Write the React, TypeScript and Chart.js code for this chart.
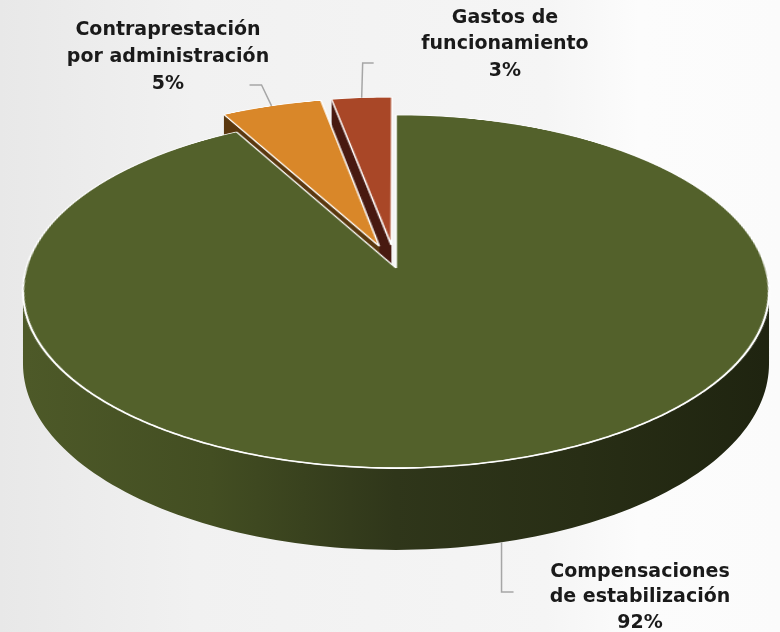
import React, { useEffect, useRef } from 'react';
import { Chart, registerables } from 'chart.js';

Chart.register(...registerables);

// ---------- data ----------
const categories: string[][] = [
  ['Compensaciones', 'de estabilización'],
  ['Contraprestación', 'por administración'],
  ['Gastos de', 'funcionamiento'],
];
const shares: number[] = [92, 5, 3];

// ---------- styles / layout ----------
const topColors = ['#53612b', '#d98729', '#a94727'];
const wallColors = ['#2f3619', '#5a380f', '#481910'];
const explodeFrac = [0, 0.135, 0.135];
// perspective view of the pie's plane
const PERSP = { cx: 396, cy: 268, rx: 369.7, ry: 173.4, k: 0.133, depth: 71 };
const labelLayout = [
  { x: 640, y: 572, lh: 25.5, elbowDx: 0, elbowY: 592, endDx: 12 },
  { x: 168, y: 30, lh: 27, elbowDx: -10, elbowY: 85, endDx: -22 },
  { x: 505, y: 18, lh: 26.5, elbowDx: 1, elbowY: 63, endDx: 12 },
];
const FONT = 'bold 19px "DejaVu Sans"';

const total = shares.reduce((a, b) => a + b, 0);
const pctLabels = shares.map((v) => Math.round((v / total) * 100) + '%');

const proj = (u: number, v: number, h = 0): [number, number] => {
  const w = 1 - PERSP.k * v;
  return [PERSP.cx + (PERSP.rx * u) / w, PERSP.cy + (PERSP.ry * v) / w + (h * PERSP.depth) / w];
};

const paintBackground = (ctx: CanvasRenderingContext2D, width: number, height: number) => {
  const g = ctx.createLinearGradient(0, 0, width, 0);
  g.addColorStop(0, '#e8e8e8');
  g.addColorStop(0.25, '#f1f1f1');
  g.addColorStop(0.7, '#f5f5f5');
  g.addColorStop(0.82, '#fcfcfc');
  g.addColorStop(1, '#fbfbfb');
  ctx.fillStyle = g;
  ctx.fillRect(0, 0, width, height);
};

const pie3d = {
  id: 'pie3d',
  afterDatasetsUpdate(chart: any) {
    const meta = chart.getDatasetMeta(0);
    const base = meta.data[0];
    chart.$pieBase = { x: base.x, y: base.y, r: base.outerRadius };
    meta.data.forEach((el: any, i: number) => {
      const m = (el.startAngle + el.endAngle) / 2;
      el.x += Math.cos(m) * explodeFrac[i] * base.outerRadius;
      el.y += Math.sin(m) * explodeFrac[i] * base.outerRadius;
    });
  },
  afterDatasetsDraw(chart: any) {
    const { ctx, canvas } = chart;
    const W = canvas.width;
    const H = canvas.height;
    const b = chart.$pieBase;
    // the library has drawn the flat (top-view) slices; keep them aside
    const off = document.createElement('canvas');
    off.width = W;
    off.height = H;
    (off.getContext('2d') as CanvasRenderingContext2D).drawImage(canvas, 0, 0);

    ctx.save();
    ctx.clearRect(0, 0, W, H);
    paintBackground(ctx, W, H);

    const arcs = chart.getDatasetMeta(0).data;
    const aMin = Math.asin(PERSP.k);
    const order = arcs.map((_: any, i: number) => i).reverse();
    for (const i of order) {
      const el = arcs[i];
      const su = (el.x - b.x) / b.r;
      const sv = (el.y - b.y) / b.r;
      // radial walls facing the viewer
      const walls: number[] = [];
      if (Math.cos(el.startAngle) < -1e-6) walls.push(el.startAngle);
      if (Math.cos(el.endAngle) > 1e-6) walls.push(el.endAngle);
      for (const a of walls) {
        const c0 = proj(su, sv);
        const p0 = proj(su + Math.cos(a), sv + Math.sin(a));
        const p1 = proj(su + Math.cos(a), sv + Math.sin(a), 1);
        const c1 = proj(su, sv, 1);
        ctx.beginPath();
        ctx.moveTo(c0[0], c0[1]);
        ctx.lineTo(p0[0], p0[1]);
        ctx.lineTo(p1[0], p1[1]);
        ctx.lineTo(c1[0], c1[1]);
        ctx.closePath();
        ctx.fillStyle = wallColors[i];
        ctx.fill();
      }
      // outer curved side
      for (let kk = -1; kk <= 1; kk++) {
        const lo = Math.max(el.startAngle, 2 * Math.PI * kk + aMin);
        const hi = Math.min(el.endAngle, 2 * Math.PI * kk + Math.PI - aMin);
        if (hi - lo <= 1e-6) continue;
        const N = 120;
        ctx.beginPath();
        for (let s = 0; s <= N; s++) {
          const a = lo + ((hi - lo) * s) / N;
          const p = proj(su + Math.cos(a), sv + Math.sin(a));
          if (s === 0) ctx.moveTo(p[0], p[1]);
          else ctx.lineTo(p[0], p[1]);
        }
        for (let s = N; s >= 0; s--) {
          const a = lo + ((hi - lo) * s) / N;
          const p = proj(su + Math.cos(a), sv + Math.sin(a), 1);
          ctx.lineTo(p[0], p[1]);
        }
        ctx.closePath();
        if (i === 0) {
          const g = ctx.createLinearGradient(PERSP.cx - PERSP.rx, 0, PERSP.cx + PERSP.rx, 0);
          g.addColorStop(0, '#4d5928');
          g.addColorStop(0.25, '#434e22');
          g.addColorStop(0.5, '#2f361a');
          g.addColorStop(0.75, '#282e15');
          g.addColorStop(1, '#1f2410');
          ctx.fillStyle = g;
        } else {
          ctx.fillStyle = wallColors[i];
        }
        ctx.fill();
      }
    }

    // perspective warp of the library's slices, row by row
    ctx.imageSmoothingEnabled = true;
    (ctx as any).imageSmoothingQuality = 'high';
    const vOf = (y: number) => (y - PERSP.cy) / (PERSP.ry + PERSP.k * (y - PERSP.cy));
    for (let yd = 0; yd < H; yd++) {
      const v0 = vOf(yd);
      const v1 = vOf(yd + 1);
      if (v1 < -1.4 || v0 > 1.2) continue;
      let ys0 = b.y + b.r * v0;
      let ys1 = b.y + b.r * v1;
      if (ys1 <= 0 || ys0 >= H) continue;
      ys0 = Math.max(0, ys0);
      ys1 = Math.min(H, ys1);
      if (ys1 - ys0 < 0.01) continue;
      const w = 1 - PERSP.k * ((v0 + v1) / 2);
      const scale = PERSP.rx / (b.r * w);
      ctx.drawImage(off, 0, ys0, W, ys1 - ys0, PERSP.cx - b.x * scale, yd, W * scale, 1);
    }

    // white highlight along the front rim
    ctx.beginPath();
    const N = 200;
    for (let s = 0; s <= N; s++) {
      const a = aMin + ((Math.PI - 2 * aMin) * s) / N;
      const p = proj(Math.cos(a), Math.sin(a));
      if (s === 0) ctx.moveTo(p[0], p[1]);
      else ctx.lineTo(p[0], p[1]);
    }
    ctx.strokeStyle = '#ffffff';
    ctx.lineWidth = 1.4;
    ctx.stroke();
    ctx.restore();
  },
  afterDraw(chart: any) {
    const { ctx } = chart;
    const b = chart.$pieBase;
    const arcs = chart.getDatasetMeta(0).data;
    ctx.save();
    arcs.forEach((el: any, i: number) => {
      const L = labelLayout[i];
      const su = (el.x - b.x) / b.r;
      const sv = (el.y - b.y) / b.r;
      const m = (el.startAngle + el.endAngle) / 2;
      const [ax, ay] = proj(su + Math.cos(m), sv + Math.sin(m), Math.sin(m) > 0 ? 1 : 0);
      ctx.beginPath();
      ctx.moveTo(ax, ay);
      ctx.lineTo(ax + L.elbowDx, L.elbowY);
      ctx.lineTo(ax + L.endDx, L.elbowY);
      ctx.strokeStyle = '#a6a6a6';
      ctx.lineWidth = 1.5;
      ctx.stroke();
      const lines = [...categories[i], pctLabels[i]];
      ctx.font = FONT;
      ctx.fillStyle = '#1a1a1a';
      ctx.textAlign = 'center';
      ctx.textBaseline = 'middle';
      lines.forEach((t, k) => ctx.fillText(t, L.x, L.y + k * L.lh));
    });
    ctx.restore();
  },
};

export default function App() {
  const ref = useRef<HTMLCanvasElement>(null);
  useEffect(() => {
    document.body.style.margin = '0';
    const chart = new Chart(ref.current as HTMLCanvasElement, {
      type: 'pie',
      data: {
        labels: categories.map((c) => c.join(' ')),
        datasets: [
          {
            data: shares,
            backgroundColor: topColors,
            borderColor: '#ffffff',
            borderWidth: 1.5,
            clip: false as any,
          } as any,
        ],
      },
      options: {
        responsive: false,
        maintainAspectRatio: false,
        animation: false,
        events: [],
        layout: { padding: { top: 50 } },
        plugins: { legend: { display: false }, tooltip: { enabled: false } },
      },
      plugins: [pie3d as any],
    });
    return () => chart.destroy();
  }, []);
  return (
    <div style={{ position: 'absolute', left: 0, top: 0, width: 780, height: 632 }}>
      <canvas ref={ref} width={780} height={632} style={{ display: 'block', width: 780, height: 632 }} />
    </div>
  );
}
